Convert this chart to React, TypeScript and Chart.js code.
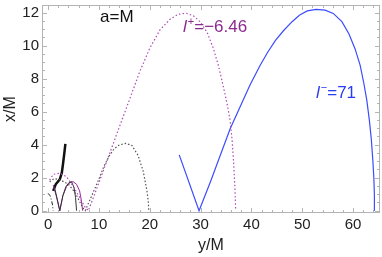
import React, { useEffect, useRef } from "react";
import { Chart, registerables } from "chart.js";
Chart.register(...registerables);

const xTickValues = [0, 10, 20, 30, 40, 50, 60];
const yTickValues = [0, 2, 4, 6, 8, 10, 12];
const xMinorStep = 2;
const yMinorStep = 0.5;

// l- = 71 (blue solid)
const blueX = [25.8, 29.7, 32.0, 35.8, 39.7, 41.7, 43.2, 44.7, 46.3, 48.0, 49.5, 51.0, 52.7, 54.5, 56.1, 57.8, 59.2, 60.4, 61.4, 62.1, 62.7, 63.2, 63.6, 63.9, 64.1, 64.2, 64.2];
const blueY = [3.38, 0.0, 1.8, 4.95, 7.6, 8.8, 9.6, 10.3, 10.9, 11.45, 11.85, 12.1, 12.2, 12.15, 11.95, 11.45, 10.7, 9.8, 8.8, 7.75, 6.7, 5.5, 4.3, 3.0, 1.9, 0.9, 0.0];

// l+ = -6.46 (purple dotted)
const purpleDotX = [0.3, 1.0, 2.3, 3.6, 5.0, 6.2, 7.2, 7.9, 8.8, 10.0, 11.5, 13.1, 14.6, 16.1, 18.0, 20.0, 22.0, 24.0, 25.6, 27.2, 28.6, 29.9, 31.3, 32.5, 33.5, 34.4, 35.2, 35.8, 36.2, 36.5, 36.75, 36.9];
const purpleDotY = [1.85, 2.2, 2.27, 2.06, 1.45, 0.8, 0.25, 0.0, 0.7, 1.7, 2.95, 4.3, 5.55, 6.8, 8.4, 9.84, 10.95, 11.6, 11.9, 11.96, 11.8, 11.45, 10.8, 9.84, 8.8, 7.62, 6.5, 5.5, 4.3, 2.9, 1.45, 0.0];

// black dotted
const blackDotX = [0.3, 1.2, 2.5, 4.0, 5.3, 6.3, 7.0, 7.3, 8.5, 10.2, 11.0, 12.1, 13.0, 14.0, 15.3, 16.5, 17.7, 18.7, 19.4, 19.7, 19.8];
const blackDotY = [1.75, 1.95, 1.85, 1.6, 1.1, 0.5, 0.1, 0.0, 0.85, 2.06, 2.7, 3.35, 3.75, 3.98, 4.08, 3.95, 3.35, 2.4, 1.3, 0.6, 0.0];

// black thick solid
const thickX = [1.0, 1.5, 2.3, 2.7, 2.95, 3.2, 3.4];
const thickY = [1.2, 1.6, 1.9, 2.3, 2.87, 3.5, 4.05];

// purple thin solid
const purpleSolidX = [1.0, 1.6, 2.3, 2.9, 3.6, 4.3, 4.9, 5.6, 6.2, 6.5, 6.8];
const purpleSolidY = [1.56, 0.9, 0.0, 0.9, 1.45, 1.7, 1.76, 1.6, 1.2, 0.7, 0.0];

// black thin solid
const blackSolidX = [1.3, 1.8, 2.3, 2.9, 3.5, 4.1, 4.6, 5.1, 5.4, 5.6];
const blackSolidY = [1.36, 0.7, 0.0, 0.9, 1.45, 1.7, 1.76, 1.4, 0.8, 0.0];

// black dash-dot
const dashDotX = [0.0, 0.4, 0.7, 0.9, 1.0];
const dashDotY = [1.05, 0.9, 0.6, 0.3, 0.0];

const pts = (xs: number[], ys: number[]) => xs.map((x, i) => ({ x, y: ys[i] }));

const FONT = "'Liberation Sans', Arial, sans-serif";

const framePlugin = {
  id: "frame",
  beforeDatasetsDraw(chart: any) {
    const { ctx, chartArea, scales } = chart;
    const { left, right, top, bottom } = chartArea;
    const xs = scales.x, ys = scales.y;
    ctx.save();
    ctx.strokeStyle = "#b4b4b4";
    ctx.lineWidth = 1;
    ctx.strokeRect(left + 0.5, top + 0.5, right - left - 1, bottom - top - 1);
    ctx.beginPath();
    for (let v = 0; v <= xs.max; v += xMinorStep) {
      const p = Math.round(xs.getPixelForValue(v)) + 0.5;
      if (p < left || p > right) continue;
      const major = xTickValues.includes(Math.round(v * 100) / 100);
      const len = major ? 5 : 3;
      ctx.moveTo(p, bottom); ctx.lineTo(p, bottom - len);
      ctx.moveTo(p, top); ctx.lineTo(p, top + len);
    }
    for (let v = 0; v <= ys.max; v += yMinorStep) {
      const p = Math.round(ys.getPixelForValue(v)) + 0.5;
      if (p < top || p > bottom) continue;
      const major = yTickValues.includes(Math.round(v * 100) / 100);
      const len = major ? 5 : 3;
      ctx.moveTo(left, p); ctx.lineTo(left + len, p);
      ctx.moveTo(right, p); ctx.lineTo(right - len, p);
    }
    ctx.stroke();
    ctx.restore();
  },
};

function drawL(ctx: CanvasRenderingContext2D, x: number, y: number, sup: string, rest: string, color: string) {
  ctx.fillStyle = color;
  ctx.textBaseline = "alphabetic";
  ctx.textAlign = "left";
  ctx.font = `italic 17px ${FONT}`;
  ctx.fillText("l", x, y);
  let cx = x + ctx.measureText("l").width + 1;
  ctx.font = `11px ${FONT}`;
  ctx.fillText(sup, cx, y - 7);
  cx += ctx.measureText(sup).width;
  ctx.font = `17px ${FONT}`;
  ctx.fillText(rest, cx, y);
}

const labelPlugin = {
  id: "labels",
  afterDraw(chart: any) {
    const ctx = chart.ctx as CanvasRenderingContext2D;
    ctx.save();
    ctx.font = `17px ${FONT}`;
    ctx.fillStyle = "#111";
    ctx.textBaseline = "alphabetic";
    ctx.textAlign = "left";
    ctx.fillText("a=M", 100, 22);
    drawL(ctx, 183, 32, "+", "=\u22126.46", "#8b2a8f");
    drawL(ctx, 316, 98, "\u2212", "=71", "#2b3cf0");
    ctx.restore();
  },
};

export default function App() {
  const ref = useRef<HTMLCanvasElement>(null);
  useEffect(() => {
    const canvas = ref.current!;
    const line = (data: any, color: string, width: number, dash: number[] = []) => ({
      data,
      showLine: true,
      borderColor: color,
      borderWidth: width,
      borderDash: dash,
      pointRadius: 0,
      tension: 0,
      fill: false,
    });
    const chart = new Chart(canvas, {
      type: "scatter",
      data: {
        datasets: [
          line(pts(blackDotX, blackDotY), "#555555", 1.2, [1.5, 2]),
          line(pts(purpleDotX, purpleDotY), "#b048b8", 1.2, [1.5, 2.2]),
          line(pts(dashDotX, dashDotY), "#222222", 1, [4, 2, 1, 2]),
          line(pts(blackSolidX, blackSolidY), "#333333", 1),
          line(pts(purpleSolidX, purpleSolidY), "#9a2aa0", 1),
          line(pts(thickX, thickY), "#111111", 2.5),
          line(pts(blueX, blueY), "#3c4cff", 1.2),
        ],
      },
      options: {
        animation: false,
        responsive: false,
        devicePixelRatio: 1,
        layout: { padding: { top: 5, right: 2, left: 0, bottom: 0 } },
        plugins: { legend: { display: false }, tooltip: { enabled: false } },
        scales: {
          x: {
            type: "linear",
            min: -1.2,
            max: 65.3,
            grid: { display: false, drawTicks: false },
            border: { display: false },
            afterBuildTicks: (s: any) => { s.ticks = xTickValues.map((v) => ({ value: v })); },
            afterFit: (s: any) => { s.height = 44; s.paddingLeft = 0; s.paddingRight = 0; },
            ticks: { color: "#222", font: { family: FONT, size: 15 }, padding: 3, maxRotation: 0 },
            title: { display: true, text: "y/M", color: "#222", font: { family: FONT, size: 16 }, padding: { top: 0, bottom: 2 } },
          },
          y: {
            type: "linear",
            min: -0.14,
            max: 12.46,
            grid: { display: false, drawTicks: false },
            border: { display: false },
            afterBuildTicks: (s: any) => { s.ticks = yTickValues.map((v) => ({ value: v })); },
            afterFit: (s: any) => { s.width = 42; s.paddingTop = 0; s.paddingBottom = 0; },
            ticks: { color: "#222", font: { family: FONT, size: 15 }, padding: 3 },
            title: { display: true, text: "x/M", color: "#222", font: { family: FONT, size: 16 }, padding: { top: 1, bottom: 0 } },
          },
        },
      },
      plugins: [framePlugin, labelPlugin],
    } as any);
    return () => chart.destroy();
  }, []);
  return (
    <div style={{ position: "fixed", left: 0, top: 0, width: 382, height: 257, background: "#fff" }}>
      <canvas ref={ref} width={382} height={257} style={{ display: "block" }} />
    </div>
  );
}
